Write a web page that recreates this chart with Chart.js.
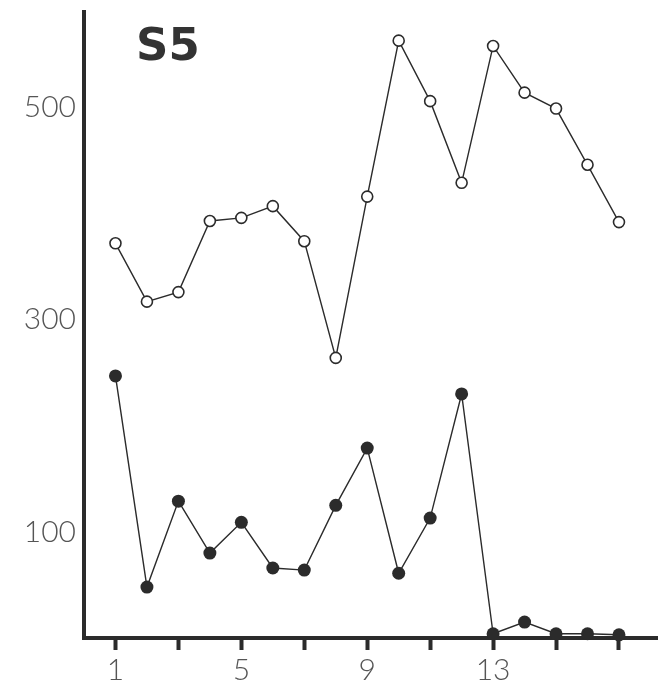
<!DOCTYPE html>
<html>
<head>
<meta charset="utf-8">
<script src="https://cdn.jsdelivr.net/npm/chart.js@4/dist/chart.umd.min.js"></script>
<style>
  html, body { margin: 0; padding: 0; background: #fff; }
  #wrap { width: 658px; height: 686px; }
</style>
</head>
<body>
<div id="wrap"><canvas id="s5Chart" width="658" height="686"></canvas></div>
<script>
// valeurs
const days = [1, 2, 3, 4, 5, 6, 7, 8, 9, 10, 11, 12, 13, 14, 15, 16, 17];
const openSeries = [372, 317, 326, 393, 396, 407, 374, 264, 416, 563, 506, 429, 558, 514, 499, 446, 392];
const filledSeries = [247, 48, 129, 80, 109, 66, 64, 125, 179, 61, 113, 230, 4, 15, 4, 4, 3];
const yTicks = [100, 300, 500];
const xTicks = [1, 3, 5, 7, 9, 11, 13, 15, 17];
const xLabels = [1, 5, 9, 13];

const ink = '#2b2b2b';
const labelFont = { family: 'Lato', weight: '300', size: 30 };

// titre "S5" dans la zone du graphique
const panelTitle = {
    id: 'panelTitle',
    afterDraw(chart) {
        const ctx = chart.ctx;
        ctx.save();
        ctx.fillStyle = '#333';
        ctx.font = 'bold 45px "DejaVu Sans"';
        ctx.textBaseline = 'alphabetic';
        ctx.fillText('S5', chart.chartArea.left + 52, 60);
        ctx.restore();
    }
};

const ctx = document.getElementById('s5Chart').getContext('2d');
new Chart(ctx, {
    type: 'line',
    data: {
        datasets: [{
            label: 'open',
            data: days.map((d, i) => ({ x: d, y: openSeries[i] })),
            borderColor: ink,
            borderWidth: 1.4,
            pointRadius: 5.5,
            pointBorderWidth: 1.6,
            pointBackgroundColor: '#fff',
            pointBorderColor: ink,
            tension: 0,
            clip: false
        }, {
            label: 'filled',
            data: days.map((d, i) => ({ x: d, y: filledSeries[i] })),
            borderColor: ink,
            borderWidth: 1.4,
            pointRadius: 6.5,
            pointBorderWidth: 0,
            pointBackgroundColor: ink,
            pointBorderColor: ink,
            tension: 0,
            clip: false
        }]
    },
    options: {
        responsive: false,
        animation: false,
        layout: { autoPadding: false, padding: { top: 12, right: 0, bottom: 0, left: 0 } },
        plugins: { legend: { display: false }, tooltip: { enabled: false } },
        scales: {
            x: {
                type: 'linear',
                min: 0,
                max: 18.24,
                afterBuildTicks: (scale) => { scale.ticks = xTicks.map(v => ({ value: v })); },
                afterFit: (scale) => { scale.height = 48; scale.paddingRight = 0; },
                border: { display: true, color: ink, width: 4 },
                grid: { drawOnChartArea: false, drawTicks: true, tickLength: 12, tickWidth: 4, tickColor: ink },
                ticks: {
                    color: '#555',
                    font: labelFont,
                    padding: 2,
                    maxRotation: 0,
                    autoSkip: false,
                    callback: (v) => xLabels.includes(v) ? String(v) : ''
                }
            },
            y: {
                type: 'linear',
                min: 0,
                max: 590,
                afterBuildTicks: (scale) => { scale.ticks = yTicks.map(v => ({ value: v })); },
                afterFit: (scale) => { scale.width = 84; scale.paddingTop = 12; scale.paddingBottom = 0; },
                border: { display: true, color: ink, width: 4 },
                grid: { display: false, drawTicks: false },
                ticks: {
                    color: '#555',
                    font: labelFont,
                    padding: 8
                }
            }
        }
    },
    plugins: [panelTitle]
});
</script>
</body>
</html>
